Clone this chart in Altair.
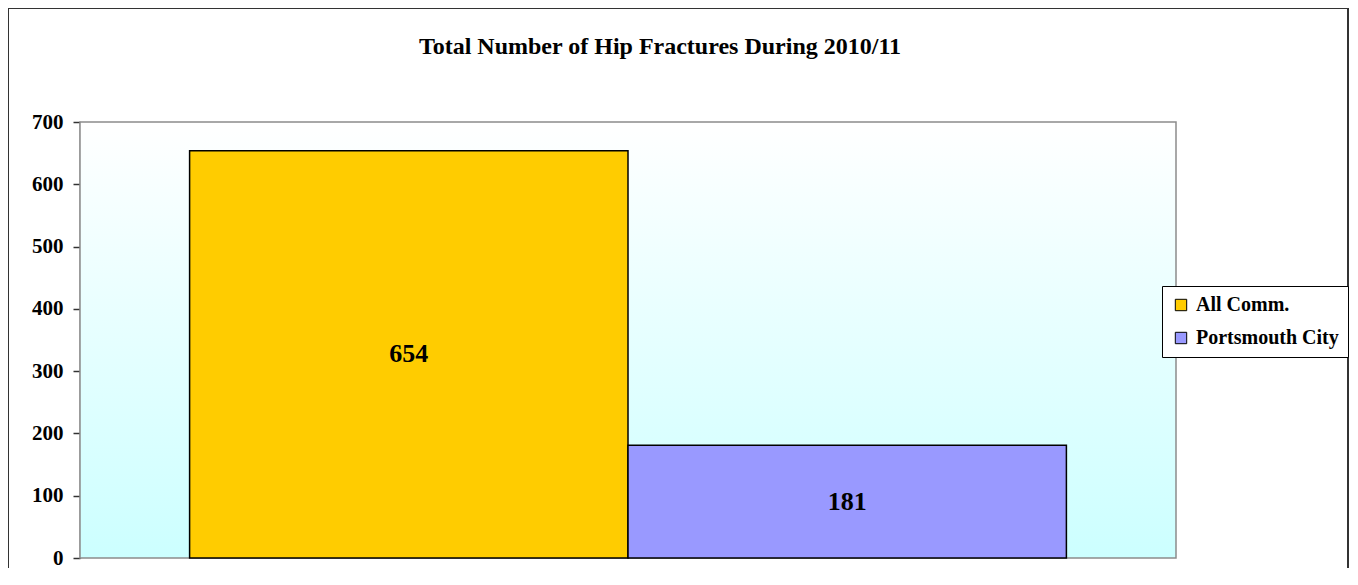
import altair as alt
import pandas as pd

series = ["All Comm.", "Portsmouth City"]
values = [654, 181]
colors = ["#FFCC00", "#9999FF"]
y_ticks = [0, 100, 200, 300, 400, 500, 600, 700]
title_text = "Total Number of Hip Fractures During 2010/11"

W, H = 1096, 436
FONT = "Liberation Serif"

df = pd.DataFrame({"series": series, "value": values})
one = pd.DataFrame({"a": [0]})

bg = alt.Chart(one).mark_rect(
    fill=alt.LinearGradient(
        gradient="linear",
        stops=[alt.GradientStop(color="#FFFFFF", offset=0),
               alt.GradientStop(color="#CCFFFF", offset=1)],
        x1=0, x2=0, y1=0, y2=1),
    stroke="#8C8C8C", strokeWidth=1.5,
).encode(x=alt.value(0), x2=alt.value(W), y=alt.value(0), y2=alt.value(H))

frame = alt.Chart(one).mark_rect(
    fill=None, stroke="#333333", strokeWidth=2, clip=False
).encode(x=alt.value(-72), x2=alt.value(W + 172), y=alt.value(-114), y2=alt.value(H + 80))

title = alt.Chart(one).mark_text(
    text=title_text, font=FONT, fontSize=24, fontWeight="bold", color="black",
    align="center", baseline="alphabetic"
).encode(x=alt.value(W / 2 + 32), y=alt.value(-68))

bars = alt.Chart(df).mark_bar(stroke="black", strokeWidth=1.5).encode(
    x=alt.X("series:N", sort=series,
            scale=alt.Scale(paddingInner=0, paddingOuter=0.25), axis=None),
    y=alt.Y("value:Q", scale=alt.Scale(domain=[0, 700], nice=False),
            axis=alt.Axis(values=y_ticks, title=None, grid=False,
                          labelFont=FONT, labelFontSize=21, labelFontWeight="bold",
                          labelColor="black", labelPadding=10, tickSize=7,
                          tickColor="#333333", domainColor="#333333",
                          domainWidth=1.5, tickWidth=1.5)),
    color=alt.Color("series:N", sort=series,
                    scale=alt.Scale(domain=series, range=colors),
                    legend=alt.Legend(title=None, orient="none",
                                      legendX=1082, legendY=164,
                                      labelFont=FONT, labelFontSize=20,
                                      labelFontWeight="bold", labelColor="black",
                                      symbolType="square", symbolSize=130,
                                      symbolStrokeColor="black", symbolStrokeWidth=1,
                                      symbolOpacity=1,
                                      fillColor="white", strokeColor="black",
                                      padding=9, rowPadding=13, labelOffset=5)),
)

labels = alt.Chart(df).transform_calculate(mid="datum.value / 2").mark_text(
    font=FONT, fontSize=26, fontWeight="bold", color="black", baseline="middle"
).encode(x=alt.X("series:N", sort=series), y="mid:Q", text="value:Q")

chart = alt.layer(bg, frame, title, bars, labels).properties(
    width=W, height=H,
    autosize=alt.AutoSizeParams(type="none"),
    padding={"left": 72, "top": 114, "right": 174, "bottom": 10},
).configure_view(stroke=None)

chart.save("out.html", embed_options={"renderer": "svg", "actions": False})
